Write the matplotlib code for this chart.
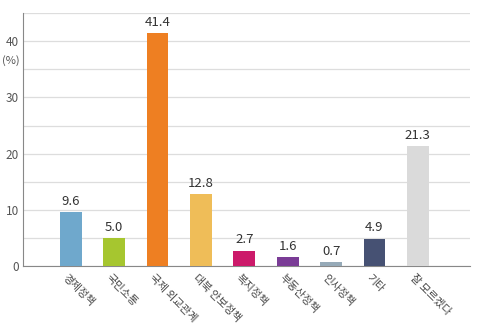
import matplotlib
matplotlib.use('Agg')
import matplotlib.pyplot as plt

# ==================== 데이터 ====================
categories = ['경제정책', '국민소통', '국제 외교관계', '대북 안보정책', '복지정책',
              '부동산정책', '인사정책', '기타', '잘 모르겠다']
values = [9.6, 5.0, 41.4, 12.8, 2.7, 1.6, 0.7, 4.9, 21.3]
colors = ['#6FA8CC', '#A6C62F', '#EE7F22', '#EFBD58', '#CC1A6A',
          '#7A3C96', '#96AAB8', '#465173', '#DADADA']
y_ticks = [0, 10, 20, 30, 40]

plt.rcParams['font.family'] = ['Noto Sans CJK KR', 'DejaVu Sans']

fig = plt.figure(figsize=(4.8, 3.27), dpi=100)
ax = fig.add_axes([0.048, 0.186, 0.931, 0.774])

x = list(range(len(categories)))
ax.bar(x, values, width=0.5, color=colors, zorder=3)

for xi, v in zip(x, values):
    ax.text(xi, v + 0.8, f'{v:.1f}', ha='center', va='bottom',
            fontsize=9.5, color='#333333', zorder=4)

ax.set_xlim(-1.1, 9.2)
ax.set_ylim(0, 45)
ax.set_yticks(list(range(0, 50, 5)))
ax.set_yticklabels([str(t) if t in y_ticks else '' for t in range(0, 50, 5)])
ax.yaxis.grid(True, color='#DDDDDD', linewidth=0.9, zorder=0)
ax.tick_params(axis='y', length=0, labelsize=8.5, colors='#555555', pad=3)
ax.tick_params(axis='x', length=0)
ax.set_xticks(x)
ax.set_xticklabels([])

for xi, c in zip(x, categories):
    ax.text(xi - 0.15, -1.8, c, rotation=-45, rotation_mode='anchor',
            ha='left', va='center', fontsize=7.8, color='#444444')

ax.text(-0.027, 37.6, '(%)', transform=ax.get_yaxis_transform(),
        ha='center', va='top', fontsize=8, color='#555555')

for s in ['top', 'right']:
    ax.spines[s].set_visible(False)
ax.spines['left'].set_color('#888888')
ax.spines['bottom'].set_color('#888888')

fig.savefig('out.png', dpi=100)
